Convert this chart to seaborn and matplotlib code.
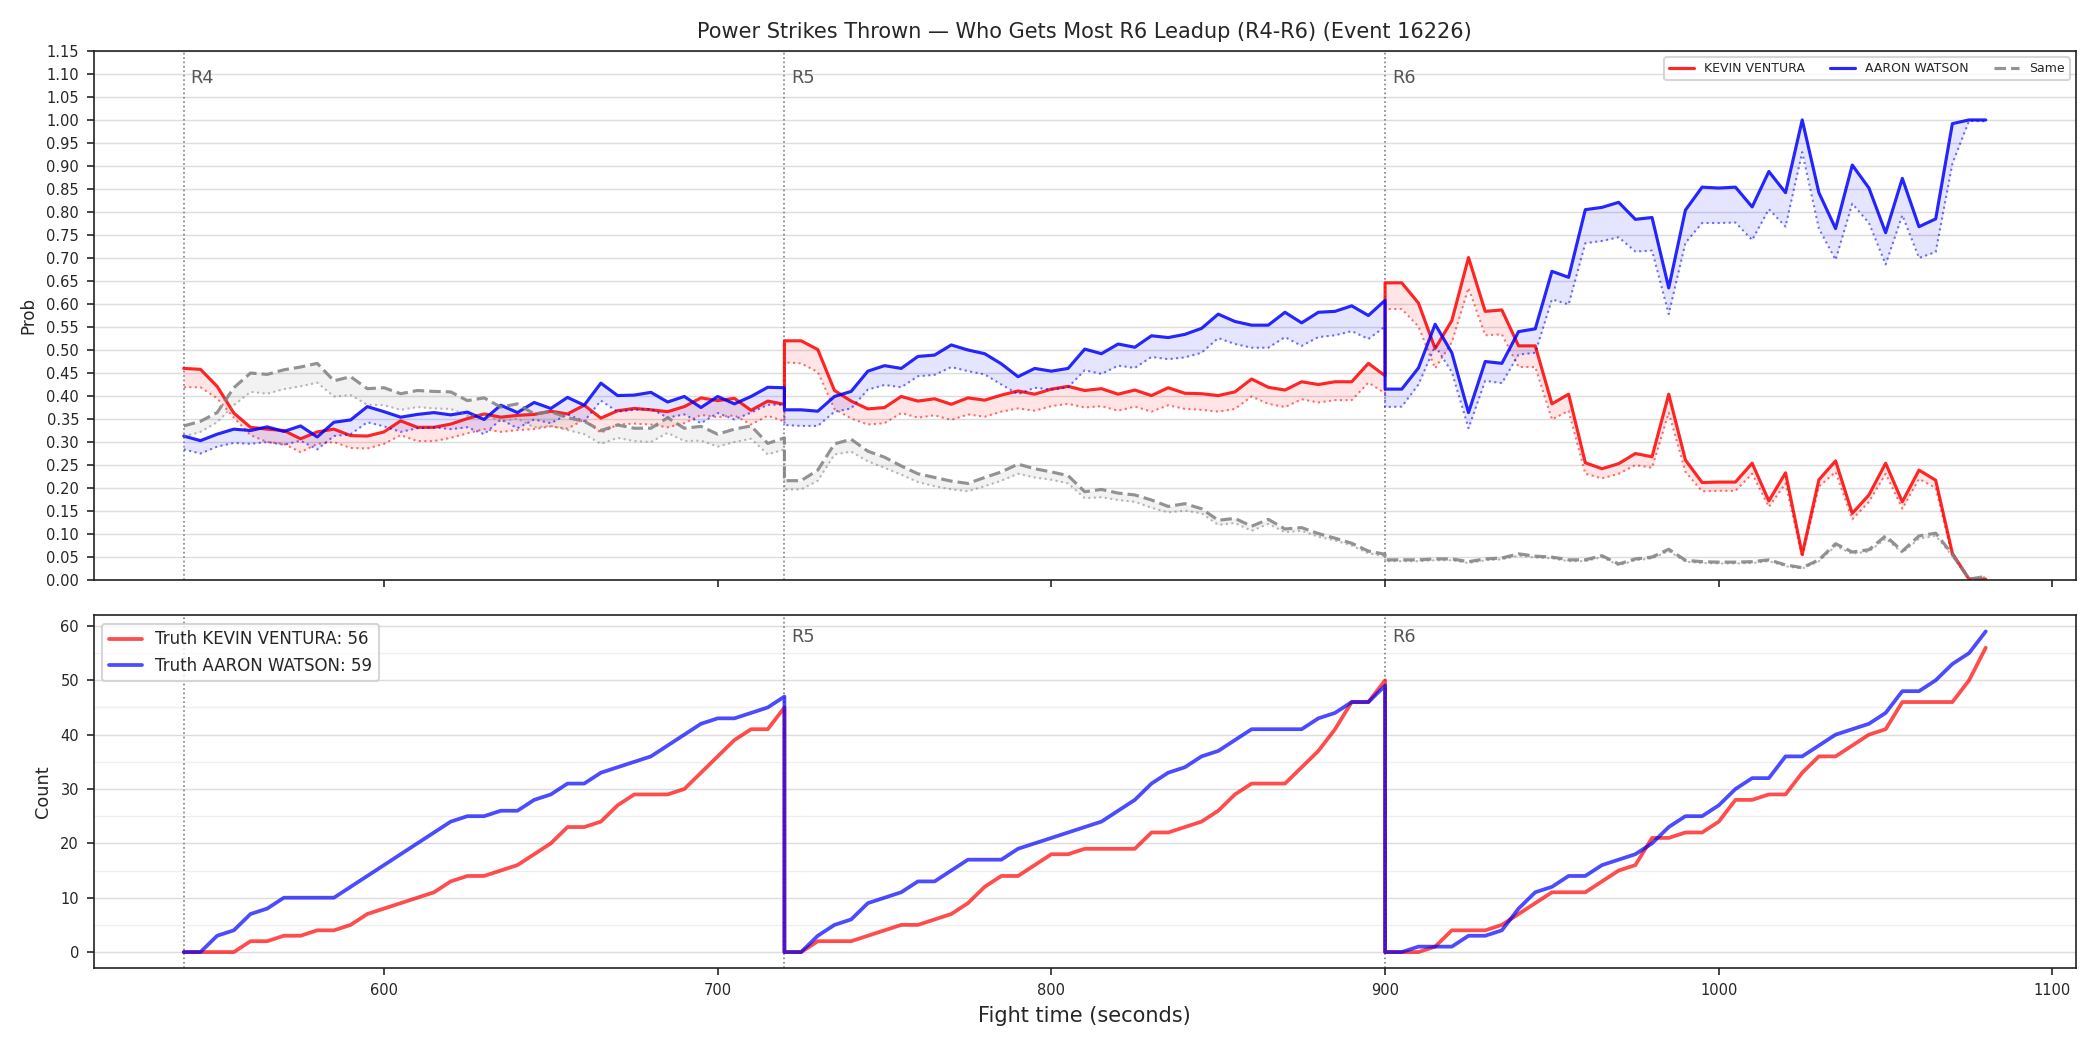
import numpy as np
import seaborn as sns
import matplotlib.pyplot as plt
from matplotlib.ticker import MultipleLocator
from matplotlib.transforms import blended_transform_factory

# sample times: 5 s steps, each round 180 s, boundary repeated
round_starts = [540, 720, 900]
round_names = ['R4', 'R5', 'R6']
t = np.concatenate([np.arange(s, s + 181, 5) for s in round_starts])

# probabilities (solid line) and lower band (dotted line) per side
ventura = [0.460, 0.458, 0.421, 0.363, 0.332, 0.328, 0.325, 0.307, 0.322, 0.328, 0.314, 0.313, 0.322, 0.346, 0.332, 0.332, 0.339, 0.351, 0.361, 0.354, 0.358, 0.360, 0.367, 0.361, 0.380, 0.352, 0.368, 0.373, 0.370, 0.366, 0.377, 0.396, 0.390, 0.395, 0.369, 0.389, 0.382,
           0.520, 0.520, 0.501, 0.412, 0.389, 0.372, 0.375, 0.399, 0.389, 0.394, 0.382, 0.396, 0.391, 0.402, 0.411, 0.404, 0.415, 0.421, 0.412, 0.416, 0.404, 0.413, 0.401, 0.418, 0.406, 0.405, 0.401, 0.409, 0.437, 0.419, 0.413, 0.431, 0.425, 0.431, 0.431, 0.471, 0.444,
           0.646, 0.646, 0.602, 0.503, 0.564, 0.701, 0.584, 0.587, 0.509, 0.509, 0.383, 0.404, 0.255, 0.242, 0.253, 0.275, 0.268, 0.404, 0.261, 0.212, 0.213, 0.213, 0.254, 0.172, 0.233, 0.056, 0.218, 0.259, 0.145, 0.185, 0.254, 0.170, 0.239, 0.217, 0.058, 0.002, 0.002]
ventura_lo = [0.419, 0.419, 0.395, 0.353, 0.315, 0.300, 0.296, 0.278, 0.296, 0.300, 0.287, 0.286, 0.296, 0.315, 0.302, 0.302, 0.309, 0.319, 0.328, 0.322, 0.326, 0.328, 0.334, 0.329, 0.349, 0.320, 0.338, 0.340, 0.338, 0.332, 0.341, 0.359, 0.354, 0.358, 0.338, 0.357, 0.345,
              0.473, 0.471, 0.452, 0.372, 0.351, 0.338, 0.341, 0.363, 0.353, 0.358, 0.348, 0.360, 0.355, 0.366, 0.373, 0.368, 0.378, 0.383, 0.375, 0.378, 0.368, 0.377, 0.366, 0.380, 0.372, 0.370, 0.366, 0.372, 0.399, 0.383, 0.376, 0.393, 0.386, 0.391, 0.391, 0.429, 0.406,
              0.589, 0.589, 0.551, 0.460, 0.517, 0.635, 0.532, 0.534, 0.463, 0.463, 0.349, 0.368, 0.231, 0.221, 0.231, 0.250, 0.244, 0.364, 0.235, 0.193, 0.194, 0.194, 0.231, 0.159, 0.210, 0.050, 0.203, 0.235, 0.132, 0.170, 0.231, 0.155, 0.220, 0.200, 0.052, 0.001, 0.001]
watson = [0.313, 0.303, 0.317, 0.328, 0.325, 0.333, 0.323, 0.335, 0.311, 0.343, 0.348, 0.377, 0.366, 0.354, 0.360, 0.364, 0.359, 0.365, 0.349, 0.380, 0.364, 0.386, 0.373, 0.397, 0.380, 0.428, 0.401, 0.402, 0.408, 0.387, 0.399, 0.375, 0.399, 0.383, 0.399, 0.419, 0.418,
          0.370, 0.370, 0.367, 0.399, 0.410, 0.454, 0.466, 0.460, 0.486, 0.489, 0.511, 0.500, 0.492, 0.470, 0.442, 0.460, 0.454, 0.460, 0.502, 0.492, 0.513, 0.506, 0.531, 0.527, 0.534, 0.547, 0.578, 0.562, 0.554, 0.554, 0.582, 0.559, 0.582, 0.584, 0.596, 0.575, 0.608,
          0.415, 0.415, 0.461, 0.556, 0.494, 0.364, 0.475, 0.471, 0.540, 0.546, 0.671, 0.658, 0.805, 0.810, 0.821, 0.784, 0.788, 0.635, 0.804, 0.854, 0.852, 0.854, 0.811, 0.888, 0.842, 1.000, 0.842, 0.764, 0.902, 0.852, 0.755, 0.873, 0.768, 0.785, 0.992, 1.000, 1.000]
watson_lo = [0.284, 0.275, 0.290, 0.298, 0.296, 0.300, 0.294, 0.303, 0.284, 0.313, 0.317, 0.343, 0.334, 0.322, 0.330, 0.332, 0.328, 0.332, 0.317, 0.349, 0.330, 0.349, 0.341, 0.360, 0.345, 0.390, 0.366, 0.370, 0.372, 0.353, 0.360, 0.341, 0.363, 0.349, 0.364, 0.381, 0.381,
             0.337, 0.335, 0.335, 0.366, 0.373, 0.414, 0.424, 0.419, 0.443, 0.446, 0.463, 0.454, 0.447, 0.425, 0.404, 0.418, 0.414, 0.419, 0.456, 0.448, 0.466, 0.461, 0.485, 0.480, 0.484, 0.494, 0.526, 0.513, 0.505, 0.505, 0.528, 0.509, 0.528, 0.532, 0.541, 0.524, 0.551,
             0.376, 0.377, 0.425, 0.509, 0.452, 0.330, 0.433, 0.428, 0.490, 0.494, 0.610, 0.599, 0.732, 0.737, 0.745, 0.714, 0.716, 0.578, 0.733, 0.776, 0.776, 0.777, 0.739, 0.806, 0.768, 0.930, 0.764, 0.696, 0.818, 0.776, 0.686, 0.793, 0.700, 0.713, 0.905, 0.998, 0.997]
same = [0.335, 0.345, 0.364, 0.418, 0.450, 0.447, 0.457, 0.463, 0.471, 0.433, 0.442, 0.416, 0.418, 0.405, 0.412, 0.410, 0.409, 0.390, 0.396, 0.376, 0.383, 0.361, 0.366, 0.353, 0.345, 0.325, 0.337, 0.330, 0.330, 0.353, 0.330, 0.334, 0.317, 0.328, 0.335, 0.297, 0.309,
        0.216, 0.216, 0.239, 0.296, 0.306, 0.280, 0.267, 0.248, 0.231, 0.223, 0.215, 0.210, 0.223, 0.235, 0.252, 0.242, 0.235, 0.227, 0.192, 0.197, 0.189, 0.185, 0.174, 0.160, 0.166, 0.155, 0.130, 0.134, 0.117, 0.132, 0.111, 0.114, 0.101, 0.091, 0.080, 0.063, 0.056,
        0.044, 0.044, 0.044, 0.046, 0.046, 0.040, 0.046, 0.048, 0.057, 0.052, 0.050, 0.044, 0.044, 0.053, 0.035, 0.046, 0.050, 0.067, 0.043, 0.040, 0.039, 0.039, 0.040, 0.044, 0.033, 0.027, 0.044, 0.079, 0.061, 0.066, 0.096, 0.063, 0.096, 0.102, 0.056, 0.002, 0.008]
same_lo = [0.312, 0.322, 0.343, 0.380, 0.409, 0.405, 0.415, 0.421, 0.429, 0.399, 0.402, 0.381, 0.380, 0.370, 0.376, 0.373, 0.372, 0.357, 0.360, 0.345, 0.351, 0.332, 0.335, 0.326, 0.317, 0.296, 0.309, 0.302, 0.300, 0.320, 0.302, 0.303, 0.290, 0.300, 0.307, 0.273, 0.284,
           0.197, 0.197, 0.216, 0.273, 0.279, 0.258, 0.244, 0.229, 0.213, 0.204, 0.197, 0.193, 0.204, 0.216, 0.231, 0.223, 0.218, 0.210, 0.178, 0.180, 0.174, 0.170, 0.157, 0.147, 0.151, 0.145, 0.120, 0.124, 0.107, 0.122, 0.104, 0.107, 0.094, 0.086, 0.075, 0.058, 0.052,
           0.041, 0.041, 0.041, 0.043, 0.043, 0.037, 0.043, 0.045, 0.053, 0.049, 0.047, 0.041, 0.041, 0.050, 0.032, 0.043, 0.047, 0.063, 0.040, 0.037, 0.036, 0.036, 0.037, 0.041, 0.030, 0.025, 0.041, 0.074, 0.057, 0.062, 0.090, 0.059, 0.090, 0.096, 0.052, 0.001, 0.007]

# cumulative counts of power strikes, reset every round
ventura_cnt = [0, 0, 0, 0, 2, 2, 3, 3, 4, 4, 5, 7, 8, 9, 10, 11, 13, 14, 14, 15, 16, 18, 20, 23, 23, 24, 27, 29, 29, 29, 30, 33, 36, 39, 41, 41, 45,
               0, 0, 2, 2, 2, 3, 4, 5, 5, 6, 7, 9, 12, 14, 14, 16, 18, 18, 19, 19, 19, 19, 22, 22, 23, 24, 26, 29, 31, 31, 31, 34, 37, 41, 46, 46, 50,
               0, 0, 0, 1, 4, 4, 4, 5, 7, 9, 11, 11, 11, 13, 15, 16, 21, 21, 22, 22, 24, 28, 28, 29, 29, 33, 36, 36, 38, 40, 41, 46, 46, 46, 46, 50, 56]
watson_cnt = [0, 0, 3, 4, 7, 8, 10, 10, 10, 10, 12, 14, 16, 18, 20, 22, 24, 25, 25, 26, 26, 28, 29, 31, 31, 33, 34, 35, 36, 38, 40, 42, 43, 43, 44, 45, 47,
              0, 0, 3, 5, 6, 9, 10, 11, 13, 13, 15, 17, 17, 17, 19, 20, 21, 22, 23, 24, 26, 28, 31, 33, 34, 36, 37, 39, 41, 41, 41, 41, 43, 44, 46, 46, 49,
              0, 0, 1, 1, 1, 3, 3, 4, 8, 11, 12, 14, 14, 16, 17, 18, 20, 23, 25, 25, 27, 30, 32, 32, 36, 36, 38, 40, 41, 42, 44, 48, 48, 50, 53, 55, 59]

sns.set_style('ticks')
plt.rcParams['font.family'] = ['DejaVu Sans']

fig = plt.figure(figsize=(14, 7), dpi=150)
gs = fig.add_gridspec(2, 1, height_ratios=[1.5, 1], left=0.0446, right=0.9885,
                      top=0.9515, bottom=0.078, hspace=0.08)
ax1 = fig.add_subplot(gs[0])
ax2 = fig.add_subplot(gs[1], sharex=ax1)

# top: probabilities
series = [('KEVIN VENTURA', ventura, ventura_lo, 'red', '-'),
          ('AARON WATSON', watson, watson_lo, 'blue', '-'),
          ('Same', same, same_lo, 'gray', '--')]
for name, hi, lo, col, ls in series:
    ax1.fill_between(t, lo, hi, color=col, alpha=0.1, linewidth=0)
    sns.lineplot(x=t, y=lo, ax=ax1, color=col, linestyle=':', linewidth=1,
                 alpha=0.55, estimator=None, sort=False, legend=False)
    sns.lineplot(x=t, y=hi, ax=ax1, color=col, linestyle=ls, linewidth=1.5,
                 alpha=0.85, estimator=None, sort=False, label=name)

ax1.set_ylim(0, 1.15)
ax1.yaxis.set_major_locator(MultipleLocator(0.05))
ax1.yaxis.set_major_formatter(plt.FormatStrFormatter('%.2f'))
ax1.tick_params(axis='y', labelsize=7)
ax1.tick_params(axis='x', labelbottom=False)
ax1.grid(axis='y', color='#dddddd', linewidth=0.7)
ax1.set_axisbelow(True)
ax1.set_ylabel('Prob', fontsize=8)
ax1.set_xlabel('')
ax1.set_title('Power Strikes Thrown \u2014 Who Gets Most R6 Leadup (R4-R6) (Event 16226)',
              fontsize=10)
ax1.legend(loc='upper right', ncol=3, fontsize=6, framealpha=0.8)

# bottom: counts
sns.lineplot(x=t, y=ventura_cnt, ax=ax2, color='red', alpha=0.7, linewidth=1.8,
             estimator=None, sort=False, label=f'Truth KEVIN VENTURA: {ventura_cnt[-1]}')
sns.lineplot(x=t, y=watson_cnt, ax=ax2, color='blue', alpha=0.7, linewidth=1.8,
             estimator=None, sort=False, label=f'Truth AARON WATSON: {watson_cnt[-1]}')
ax2.yaxis.set_major_locator(MultipleLocator(10))
ax2.yaxis.set_minor_locator(MultipleLocator(5))
ax2.grid(axis='y', which='major', color='#dddddd', linewidth=0.7)
ax2.grid(axis='y', which='minor', color='#eeeeee', linewidth=0.6)
ax2.set_axisbelow(True)
ax2.tick_params(axis='both', which='major', labelsize=7)
ax2.tick_params(axis='y', which='minor', length=0)
ax2.set_ylabel('Count', fontsize=8.5)
ax2.set_xlabel('Fight time (seconds)', fontsize=10)
ax2.legend(loc='upper left', fontsize=8, framealpha=0.8)

# round markers
for ax in (ax1, ax2):
    trans = blended_transform_factory(ax.transData, ax.transAxes)
    for s, name in zip(round_starts, round_names):
        ax.axvline(s, color='gray', linestyle=':', linewidth=0.8, zorder=1)
        if ax is ax2 and name == 'R4':
            continue
        ax.text(s + 2, 0.965, name, transform=trans, fontsize=8.5,
                color='#555555', va='top', ha='left')

for ax in (ax1, ax2):
    for sp in ax.spines.values():
        sp.set_color('#222222')
        sp.set_visible(True)

fig.savefig('out.png', dpi=150)
